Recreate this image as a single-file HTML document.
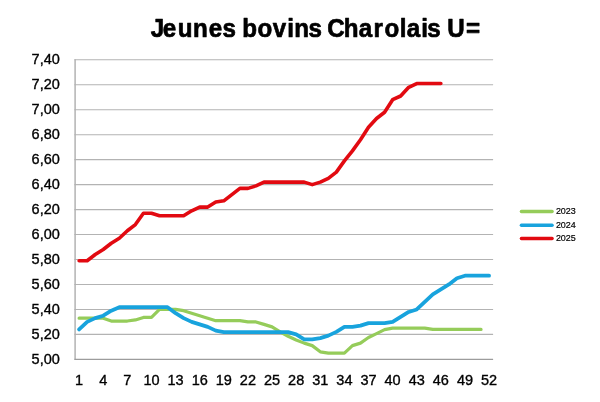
<!DOCTYPE html>
<html lang="fr"><head><meta charset="utf-8"><title>Jeunes bovins Charolais U=</title>
<style>html,body{margin:0;padding:0;background:#fff;}body{width:600px;height:402px;overflow:hidden;}svg{display:block;}text{font-family:"Liberation Sans",sans-serif;fill:#000;}.t{font-weight:bold;font-size:26px;stroke:#000;stroke-width:0.7px;stroke-linejoin:round;}.a{font-size:14.5px;stroke:#000;stroke-width:0.35px;}.l{font-size:9.5px;stroke:#000;stroke-width:0.2px;}</style></head><body>
<svg width="600" height="402" viewBox="0 0 600 402">
<rect width="600" height="402" fill="#fff"/>
<text class="t" transform="scale(0.93,1)" x="162.06 175.07 191.03 207.49 224.53 239.30 249.87 260.45 276.79 293.42 308.87 316.42 331.77 341.86 351.94 369.70 385.64 401.70 413.35 429.84 437.47 453.07 459.41 470.18 480.95 501.00" y="37.4">Jeunes bovins Charolais U=</text>
<g stroke="#b3b3b3" stroke-width="1.1" fill="none">
<line x1="74.40" y1="334.39" x2="493.1" y2="334.39"/>
<line x1="74.40" y1="309.43" x2="493.1" y2="309.43"/>
<line x1="74.40" y1="284.46" x2="493.1" y2="284.46"/>
<line x1="74.40" y1="259.50" x2="493.1" y2="259.50"/>
<line x1="74.40" y1="234.54" x2="493.1" y2="234.54"/>
<line x1="74.40" y1="209.58" x2="493.1" y2="209.58"/>
<line x1="74.40" y1="184.61" x2="493.1" y2="184.61"/>
<line x1="74.40" y1="159.65" x2="493.1" y2="159.65"/>
<line x1="74.40" y1="134.69" x2="493.1" y2="134.69"/>
<line x1="74.40" y1="109.73" x2="493.1" y2="109.73"/>
<line x1="74.40" y1="84.76" x2="493.1" y2="84.76"/>
<line x1="74.40" y1="59.80" x2="493.1" y2="59.80"/>
</g>
<line x1="75.1" y1="59.30" x2="75.1" y2="359.85" stroke="#b3b3b3" stroke-width="1.5"/>
<line x1="74.40" y1="359.35" x2="493.1" y2="359.35" stroke="#9c9c9c" stroke-width="1.1"/>
<text class="a" x="59.8" y="364" text-anchor="end">5,00</text>
<text class="a" x="59.8" y="339" text-anchor="end">5,20</text>
<text class="a" x="59.8" y="314" text-anchor="end">5,40</text>
<text class="a" x="59.8" y="289" text-anchor="end">5,60</text>
<text class="a" x="59.8" y="264" text-anchor="end">5,80</text>
<text class="a" x="59.8" y="239" text-anchor="end">6,00</text>
<text class="a" x="59.8" y="214" text-anchor="end">6,20</text>
<text class="a" x="59.8" y="189" text-anchor="end">6,40</text>
<text class="a" x="59.8" y="164" text-anchor="end">6,60</text>
<text class="a" x="59.8" y="139" text-anchor="end">6,80</text>
<text class="a" x="59.8" y="114" text-anchor="end">7,00</text>
<text class="a" x="59.8" y="89" text-anchor="end">7,20</text>
<text class="a" x="59.8" y="64" text-anchor="end">7,40</text>
<text class="a" x="79.12" y="385" text-anchor="middle">1</text>
<text class="a" x="103.23" y="385" text-anchor="middle">4</text>
<text class="a" x="127.35" y="385" text-anchor="middle">7</text>
<text class="a" x="151.47" y="385" text-anchor="middle">10</text>
<text class="a" x="175.58" y="385" text-anchor="middle">13</text>
<text class="a" x="199.70" y="385" text-anchor="middle">16</text>
<text class="a" x="223.81" y="385" text-anchor="middle">19</text>
<text class="a" x="247.93" y="385" text-anchor="middle">22</text>
<text class="a" x="272.04" y="385" text-anchor="middle">25</text>
<text class="a" x="296.16" y="385" text-anchor="middle">28</text>
<text class="a" x="320.27" y="385" text-anchor="middle">31</text>
<text class="a" x="344.39" y="385" text-anchor="middle">34</text>
<text class="a" x="368.50" y="385" text-anchor="middle">37</text>
<text class="a" x="392.62" y="385" text-anchor="middle">40</text>
<text class="a" x="416.73" y="385" text-anchor="middle">43</text>
<text class="a" x="440.85" y="385" text-anchor="middle">46</text>
<text class="a" x="464.97" y="385" text-anchor="middle">49</text>
<text class="a" x="489.08" y="385" text-anchor="middle">52</text>
<polyline points="79.12,318.16 87.16,318.16 95.20,318.16 103.23,318.16 111.27,321.03 119.31,321.03 127.35,321.03 135.39,319.91 143.43,317.41 151.47,317.41 159.50,309.42 167.54,309.42 175.58,309.42 183.62,310.67 191.66,313.17 199.70,315.67 207.73,318.16 215.77,320.66 223.81,320.66 231.85,320.66 239.89,320.66 247.93,321.91 255.97,321.91 264.00,324.40 272.04,326.90 280.08,331.89 288.12,336.26 296.16,340.00 304.20,343.12 312.23,345.62 320.27,351.86 328.31,353.11 336.35,353.11 344.39,353.11 352.43,345.62 360.47,343.12 368.50,337.51 376.54,333.64 384.58,329.64 392.62,328.15 400.66,328.15 408.70,328.15 416.73,328.15 424.77,328.15 432.81,329.39 440.85,329.39 448.89,329.39 456.93,329.39 464.97,329.39 473.00,329.39 481.04,329.39" fill="none" stroke="#95cc5a" stroke-width="3.2" stroke-linecap="round" stroke-linejoin="round"/>
<polyline points="79.12,329.39 87.16,321.91 95.20,318.16 103.23,315.67 111.27,310.67 119.31,307.18 127.35,307.18 135.39,307.18 143.43,307.18 151.47,307.18 159.50,307.18 167.54,307.18 175.58,313.17 183.62,318.16 191.66,321.91 199.70,324.40 207.73,326.90 215.77,330.64 223.81,332.14 231.85,332.14 239.89,332.14 247.93,332.14 255.97,332.14 264.00,332.14 272.04,332.14 280.08,332.14 288.12,332.14 296.16,334.39 304.20,339.38 312.23,339.38 320.27,338.13 328.31,335.64 336.35,331.89 344.39,326.90 352.43,326.90 360.47,325.65 368.50,323.15 376.54,323.15 384.58,323.15 392.62,321.91 400.66,316.91 408.70,311.92 416.73,309.42 424.77,301.94 432.81,294.45 440.85,289.46 448.89,284.46 456.93,278.22 464.97,275.73 473.00,275.73 481.04,275.73 489.08,275.73" fill="none" stroke="#18a3dd" stroke-width="3.75" stroke-linecap="round" stroke-linejoin="round"/>
<polyline points="79.12,260.75 87.16,260.75 95.20,254.51 103.23,249.52 111.27,243.27 119.31,238.28 127.35,230.79 135.39,224.55 143.43,213.32 151.47,213.32 159.50,215.82 167.54,215.82 175.58,215.82 183.62,215.82 191.66,210.82 199.70,207.08 207.73,207.08 215.77,202.09 223.81,200.84 231.85,194.60 239.89,188.36 247.93,188.36 255.97,185.86 264.00,182.12 272.04,182.12 280.08,182.12 288.12,182.12 296.16,182.12 304.20,182.12 312.23,184.61 320.27,182.12 328.31,178.37 336.35,172.13 344.39,160.90 352.43,150.91 360.47,139.68 368.50,127.20 376.54,118.46 384.58,112.22 392.62,99.74 400.66,96.00 408.70,87.26 416.73,83.51 424.77,83.51 432.81,83.51 440.85,83.51" fill="none" stroke="#e20a11" stroke-width="3.6" stroke-linecap="round" stroke-linejoin="round"/>
<line x1="521.4" y1="211.5" x2="552.1" y2="211.5" stroke="#95cc5a" stroke-width="3.4" stroke-linecap="round"/>
<text class="l" x="555.9" y="214" textLength="19.9" lengthAdjust="spacingAndGlyphs">2023</text>
<line x1="521.4" y1="225.2" x2="552.1" y2="225.2" stroke="#18a3dd" stroke-width="3.4" stroke-linecap="round"/>
<text class="l" x="555.9" y="228" textLength="19.9" lengthAdjust="spacingAndGlyphs">2024</text>
<line x1="521.4" y1="238.5" x2="552.1" y2="238.5" stroke="#e20a11" stroke-width="3.4" stroke-linecap="round"/>
<text class="l" x="555.9" y="241" textLength="19.9" lengthAdjust="spacingAndGlyphs">2025</text>
</svg></body></html>
